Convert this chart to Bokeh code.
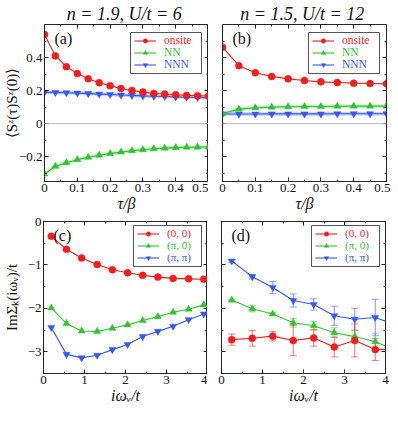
from bokeh.plotting import figure
from bokeh.layouts import column, row
from bokeh.models import (Range1d, SingleIntervalTicker, LinearAxis, Span, Label,
                          Legend, LegendItem, Whisker, ColumnDataSource,
                          CustomJSTickFormatter, BoxAnnotation)
from bokeh.embed import file_html
from bokeh.resources import INLINE

# ---------------- data ----------------
tau_a = [0, 0.0333, 0.0667, 0.1, 0.1333, 0.1667, 0.2, 0.2333, 0.2667, 0.3,
         0.3333, 0.3667, 0.4, 0.4333, 0.4667, 0.5]
onsite_a = [0.54, 0.41, 0.345, 0.303, 0.272, 0.248, 0.23, 0.213, 0.201, 0.191,
            0.183, 0.179, 0.175, 0.171, 0.169, 0.168]
nn_a = [-0.305, -0.258, -0.236, -0.218, -0.203, -0.191, -0.181, -0.172, -0.164,
        -0.158, -0.152, -0.148, -0.145, -0.143, -0.142, -0.141]
nnn_a = [0.19, 0.189, 0.187, 0.185, 0.182, 0.179, 0.176, 0.173, 0.171, 0.168,
         0.166, 0.164, 0.162, 0.16, 0.158, 0.156]

tau_b = [0, 0.05, 0.1, 0.15, 0.2, 0.25, 0.3, 0.35, 0.4, 0.45, 0.5]
onsite_b = [0.463, 0.351, 0.308, 0.286, 0.271, 0.261, 0.253, 0.249, 0.245, 0.243, 0.241]
nn_b = [0.061, 0.088, 0.096, 0.1, 0.102, 0.104, 0.104, 0.105, 0.106, 0.106, 0.106]
nnn_b = [0.058, 0.058, 0.058, 0.059, 0.059, 0.059, 0.059, 0.06, 0.06, 0.06, 0.06]

w_c = [0.19, 0.56, 0.93, 1.31, 1.68, 2.05, 2.42, 2.79, 3.16, 3.54, 3.91]
k00_c = [-0.34, -0.64, -0.84, -0.99, -1.11, -1.18, -1.24, -1.28, -1.31, -1.32, -1.33]
kp0_c = [-1.99, -2.35, -2.52, -2.53, -2.46, -2.38, -2.28, -2.19, -2.09, -2.02, -1.92]
kpp_c = [-2.44, -3.06, -3.14, -3.08, -2.95, -2.83, -2.65, -2.53, -2.41, -2.26, -2.13]

w_d = [0.25, 0.75, 1.25, 1.75, 2.25, 2.75, 3.25, 3.75, 4.25]
k00_d = [-2.72, -2.69, -2.64, -2.74, -2.68, -2.89, -2.74, -2.95, -2.94]
k00_err = [0.13, 0.18, 0.11, 0.35, 0.19, 0.23, 0.38, 0.25, 0.2]
kp0_d = [-1.81, -2.01, -2.13, -2.33, -2.40, -2.56, -2.65, -2.77, -2.96]
kp0_err = [0.02, 0.07, 0.03, 0.1, 0.1, 0.11, 0.14, 0.2, 0.2]
kpp_d = [-0.91, -1.27, -1.52, -1.82, -1.91, -2.17, -2.25, -2.21, -2.38]
kpp_err = [0.03, 0.05, 0.14, 0.15, 0.13, 0.22, 0.25, 0.42, 0.3]

titles = ["n = 1.9,  U/t = 6", "n = 1.5,  U/t = 12"]
labels_top = ["onsite", "NN", "NNN"]
labels_bot = ["(0, 0)", "(π, 0)", "(π, π)"]
ylabels = ["⟨Sᶻ(τ)Sᶻ(0)⟩", "ImΣₖ(iωᵥ)/t"]
xlabels = ["τ/β", "iωᵥ/t"]

RED, GREEN, BLUE = "#f21d1d", "#2fc42f", "#3558f2"
SERIF = "'Liberation Serif', 'Times New Roman', serif"
FW = 164
FH_TOP = 157
FH_BOT = 152

fmt_dec = CustomJSTickFormatter(code="""
const r = Math.round(tick*10)/10;
if (Math.abs(r) < 1e-9) return '0';
return r.toFixed(1).replace('-', '\\u2212');""")
fmt_int = CustomJSTickFormatter(code="""
const r = Math.round(tick);
if (r == 0) return '0';
return r.toFixed(0).replace('-', '\\u2212');""")
fmt_none = CustomJSTickFormatter(code="return '';")


def style(p, xint, yint, xfmt, yfmt, show_ylabels, xlabel, ylabel=None, ylabel_standoff=0):
    p.outline_line_color = "#222222"
    p.grid.visible = False
    xt = SingleIntervalTicker(interval=xint, num_minor_ticks=2)
    yt = SingleIntervalTicker(interval=yint, num_minor_ticks=2)
    bottom = p.below[0]
    left = p.left[0]
    bottom.ticker = xt
    left.ticker = yt
    bottom.formatter = xfmt
    left.formatter = yfmt if show_ylabels else fmt_none
    top = LinearAxis(ticker=xt, formatter=fmt_none)
    right = LinearAxis(ticker=yt, formatter=fmt_none)
    p.add_layout(top, "above")
    p.add_layout(right, "right")
    for ax in [bottom, left, top, right]:
        ax.major_tick_in = 4
        ax.major_tick_out = 0
        ax.minor_tick_in = 2
        ax.minor_tick_out = 0
        ax.axis_line_color = "#222222"
        ax.major_tick_line_color = "#222222"
        ax.minor_tick_line_color = "#222222"
        ax.major_label_text_font = SERIF
        ax.major_label_text_font_size = "13px"
        ax.major_label_text_color = "#111111"
        ax.major_label_standoff = 2
        ax.axis_label_standoff = 0
        ax.axis_label_text_font = SERIF
        ax.axis_label_text_font_size = "16px"
        ax.axis_label_text_font_style = "italic"
        ax.axis_label_text_color = "#111111"
    for ax in [top, right]:
        ax.major_label_standoff = 0
    if not show_ylabels:
        left.major_label_standoff = 0
    bottom.axis_label = xlabel
    if ylabel is not None:
        left.axis_label = ylabel
        left.axis_label_text_font_style = "normal"
        left.axis_label_text_font_size = "15px"
        left.axis_label_standoff = ylabel_standoff


def make_fig(xr, yr, fh, left, right, top, bottom, title=None):
    p = figure(frame_width=FW, frame_height=fh, x_range=Range1d(*xr), y_range=Range1d(*yr),
               output_backend="svg", toolbar_location=None,
               min_border_left=left, min_border_right=right,
               min_border_top=top, min_border_bottom=bottom, title=title)
    p.background_fill_color = "white"
    if title is not None:
        p.title.align = "center"
        p.title.text_font = SERIF
        p.title.text_font_size = "18px"
        p.title.text_font_style = "italic"
        p.title.text_color = "#111111"
        p.title.standoff = 2
    return p


def series(p, x, y, color, marker, size, halo=False):
    src = ColumnDataSource(dict(x=x, y=y))
    if halo:
        p.line("x", "y", source=src, line_color=color, line_width=3.5, line_alpha=0.3)
    ln = p.line("x", "y", source=src, line_color=color, line_width=1.1)
    sc = p.scatter("x", "y", source=src, marker=marker, size=size, fill_color=color,
                   line_color=color, line_width=0.5)
    return [ln, sc]


def legend(p, labels, colors, groups, lx, ly, font_size, box_w):
    h, s, pad = 11, 1, 3
    box_h = 3 * h + 2 * s + 2 * pad
    p.add_layout(BoxAnnotation(left=lx, right=lx + box_w, bottom=ly, top=ly + box_h,
                               left_units="screen", right_units="screen",
                               bottom_units="screen", top_units="screen",
                               fill_color="white", fill_alpha=1,
                               line_color="#555555", line_width=1, line_alpha=1))
    common = dict(padding=pad, spacing=s, glyph_height=h, label_height=h, glyph_width=22,
                  label_standoff=8, margin=0,
                  label_text_font=SERIF, label_text_font_size=font_size)
    for k, (l, c, g) in enumerate(zip(labels, colors, groups)):
        lg = Legend(items=[LegendItem(label=l, renderers=g)],
                    location=(lx + 1, ly + (2 - k) * (h + s)), label_text_color=c,
                    border_line_alpha=0, background_fill_alpha=0, **common)
        p.add_layout(lg, "center")


def panel_label(p, text, fh):
    p.add_layout(Label(x=10, y=fh - 5, x_units="screen", y_units="screen", text=text,
                       text_font=SERIF, text_font_size="16px", text_baseline="top",
                       text_color="#111111"))


# ---------------- panel (a) ----------------
pa = make_fig((0, 0.5), (-0.35, 0.6), FH_TOP, 36, 0, 0, 0, title=titles[0])
style(pa, 0.1, 0.2, fmt_dec, fmt_dec, True, xlabels[0], ylabels[0], -4)
pa.add_layout(Span(location=0, dimension="width", line_color="#b5b5b5", line_width=1))
ga = [series(pa, tau_a, nnn_a, BLUE, "inverted_triangle", 7, True),
      series(pa, tau_a, nn_a, GREEN, "triangle", 7, True),
      series(pa, tau_a, onsite_a, RED, "circle", 7)]
legend(pa, labels_top, [RED, GREEN, BLUE], [ga[2], ga[1], ga[0]], 86, FH_TOP - 8 - 41, "11.5px", 71)
panel_label(pa, "(a)", FH_TOP)

# ---------------- panel (b) ----------------
pb = make_fig((0, 0.5), (-0.35, 0.6), FH_TOP, 14, 4, 0, 0, title=titles[1])
style(pb, 0.1, 0.2, fmt_dec, fmt_dec, False, xlabels[0])
pb.add_layout(Span(location=0, dimension="width", line_color="#b5b5b5", line_width=1))
gb = [series(pb, tau_b, nnn_b, BLUE, "inverted_triangle", 7, True),
      series(pb, tau_b, nn_b, GREEN, "triangle", 7, True),
      series(pb, tau_b, onsite_b, RED, "circle", 7)]
legend(pb, labels_top, [RED, GREEN, BLUE], [gb[2], gb[1], gb[0]], 86, FH_TOP - 8 - 41, "11.5px", 71)
panel_label(pb, "(b)", FH_TOP)

# ---------------- panel (c) ----------------
pc = make_fig((0, 4), (-3.5, 0), FH_BOT, 36, 0, 7, 0)
style(pc, 1, 1, fmt_int, fmt_int, True, xlabels[1], ylabels[1], 5)
gc = [series(pc, w_c, kpp_c, BLUE, "inverted_triangle", 7),
      series(pc, w_c, kp0_c, GREEN, "triangle", 7),
      series(pc, w_c, k00_c, RED, "circle", 7)]
legend(pc, labels_bot, [RED, GREEN, BLUE], [gc[2], gc[1], gc[0]], 90, FH_BOT - 4 - 41, "11px", 68)
panel_label(pc, "(c)", FH_BOT)

# ---------------- panel (d) ----------------
pd_ = make_fig((0, 4), (-3.5, 0), FH_BOT, 14, 4, 7, 0)
style(pd_, 1, 1, fmt_int, fmt_int, False, xlabels[1])
for y, e, c in [(kpp_d, kpp_err, BLUE), (kp0_d, kp0_err, GREEN), (k00_d, k00_err, RED)]:
    n = len(w_d) - 1
    src = ColumnDataSource(dict(x=w_d[:n], lo=[a - b for a, b in zip(y[:n], e[:n])],
                                hi=[a + b for a, b in zip(y[:n], e[:n])]))
    wk = Whisker(base="x", lower="lo", upper="hi", source=src, line_color=c,
                 line_alpha=0.55, line_width=1.2)
    for hd in (wk.upper_head, wk.lower_head):
        hd.size = 7
        hd.line_color = c
        hd.line_alpha = 0.55
    pd_.add_layout(wk)
gd = [series(pd_, w_d, kpp_d, BLUE, "inverted_triangle", 7),
      series(pd_, w_d, kp0_d, GREEN, "triangle", 7),
      series(pd_, w_d, k00_d, RED, "circle", 7)]
legend(pd_, labels_bot, [RED, GREEN, BLUE], [gd[2], gd[1], gd[0]], 90, FH_BOT - 4 - 41, "11px", 68)
panel_label(pd_, "(d)", FH_BOT)

layout = column(row(pa, pb, spacing=0), row(pc, pd_, spacing=0), spacing=0)
open("out.html", "w").write(file_html(layout, INLINE))
